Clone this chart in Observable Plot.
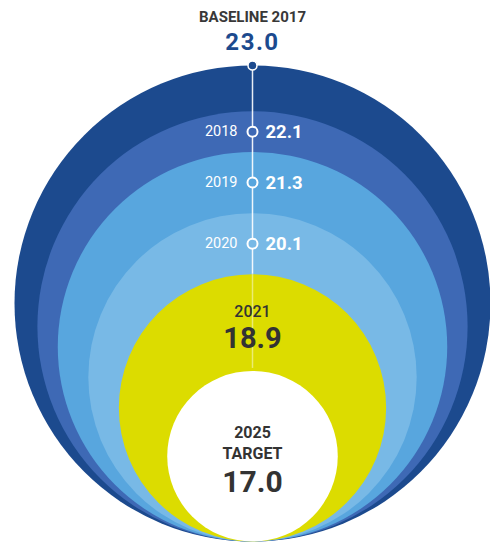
<!DOCTYPE html>
<html>
<head>
<meta charset="utf-8">
<script src="https://cdn.jsdelivr.net/npm/d3@7"></script>
<script src="https://cdn.jsdelivr.net/npm/@observablehq/plot@0.6"></script>
<style>
  html, body { margin: 0; padding: 0; background: #fff; }
  #chart svg { display: block; }
</style>
</head>
<body>
<div id="chart"></div>
<script>
// ---- data ----
const years = ["2017", "2018", "2019", "2020", "2021", "2025"];
const values = [23.0, 22.1, 21.3, 20.1, 18.9, 17.0];
const yearLabels = ["BASELINE 2017", "2018", "2019", "2020", "2021", "2025 TARGET"];
const valueLabels = ["23.0", "22.1", "21.3", "20.1", "18.9", "17.0"];
const palette = ["#1c4a8e", "#3e69b5", "#58a6de", "#78b9e6", "#dcdc00", "#ffffff"];

// value at which a circle would have zero size (fitted from picture)
const V0 = 13.65;
const vMax = d3.max(values);

const data = years.map((year, i) => ({
  year, value: values[i], yearLabel: yearLabels[i], valueLabel: valueLabels[i], i
}));

// intermediate years (markers on the line, midway between circle tops)
const mids = data.slice(1, 4).map(d => ({...d, pos: (d.value + values[d.i + 1]) / 2}));
const y2021 = data[4], y2025 = data[5];

const font = "Roboto, 'Open Sans', sans-serif";

const chart = Plot.plot({
  width: 490,
  height: 545,
  margin: 0,
  x: {type: "linear", domain: [-1, 1], range: [252 - 238.5, 252 + 238.5], axis: null},
  y: {type: "linear", domain: [V0, vMax], range: [541, 65], axis: null},
  r: {type: "linear", domain: [V0, vMax], range: [0, 238]},
  color: {domain: years, range: palette},
  marks: [
    // nested circles, all touching at the bottom
    Plot.dot(data, {x: () => 0, y: d => (d.value + V0) / 2, r: "value", fill: "year", stroke: "none"}),
    // vertical guide line
    Plot.ruleX([0], {x: d => d, y1: vMax, y2: y2021.value, stroke: "#ffffff", strokeWidth: 1.5, strokeOpacity: 0.9}),
    Plot.ruleX([0], {x: d => d, y1: y2021.value, y2: y2025.value + 0.05, stroke: "#ffffff", strokeWidth: 1.5, strokeOpacity: 0.45}),
    // baseline dot
    Plot.dot([data[0]], {x: () => 0, y: "value", r: 4.5, fill: "#1c4a8e", stroke: "#ffffff", strokeWidth: 1.5}),
    // baseline labels
    Plot.text([data[0]], {x: () => 0, y: "value", text: "yearLabel", dy: -48, fill: "#383838",
      fontFamily: font, fontWeight: 700, fontSize: 15}),
    Plot.text([data[0]], {x: () => 0, y: "value", text: "valueLabel", dy: -23, fill: "#1c4a8e",
      fontFamily: font, fontWeight: 700, fontSize: 24}),
    // intermediate markers
    Plot.dot(mids, {x: () => 0, y: "pos", r: 5, fill: "year", stroke: "#ffffff", strokeWidth: 2}),
    Plot.text(mids, {x: () => 0, y: "pos", text: "yearLabel", dx: -15, textAnchor: "end", fill: "#ffffff",
      fontFamily: font, fontWeight: 400, fontSize: 14.5}),
    Plot.text(mids, {x: () => 0, y: "pos", text: "valueLabel", dx: 13, dy: 0, textAnchor: "start", fill: "#ffffff",
      fontFamily: font, fontWeight: 700, fontSize: 18.5}),
    // 2021
    Plot.text([y2021], {x: () => 0, y: d => (d.value + y2025.value) / 2, text: "yearLabel", dy: -11, fill: "#333333",
      fontFamily: font, fontWeight: 500, fontSize: 16}),
    Plot.text([y2021], {x: () => 0, y: d => (d.value + y2025.value) / 2, text: "valueLabel", dy: 16, fill: "#333333",
      fontFamily: font, fontWeight: 700, fontSize: 29}),
    // 2025 target
    Plot.text([y2025], {x: () => 0, y: d => (d.value + V0) / 2, text: d => d.yearLabel.split(" ")[0], dy: -23, fill: "#333333",
      fontFamily: font, fontWeight: 700, fontSize: 16}),
    Plot.text([y2025], {x: () => 0, y: d => (d.value + V0) / 2, text: d => d.yearLabel.split(" ")[1], dy: -2, fill: "#333333",
      fontFamily: font, fontWeight: 700, fontSize: 16}),
    Plot.text([y2025], {x: () => 0, y: d => (d.value + V0) / 2, text: "valueLabel", dy: 26, fill: "#333333",
      fontFamily: font, fontWeight: 700, fontSize: 30})
  ]
});
d3.select(chart).selectAll("text").filter(function() { return this.textContent === valueLabels[0]; })
  .style("letter-spacing", "1.5px");
document.getElementById("chart").appendChild(chart);
</script>
</body>
</html>
